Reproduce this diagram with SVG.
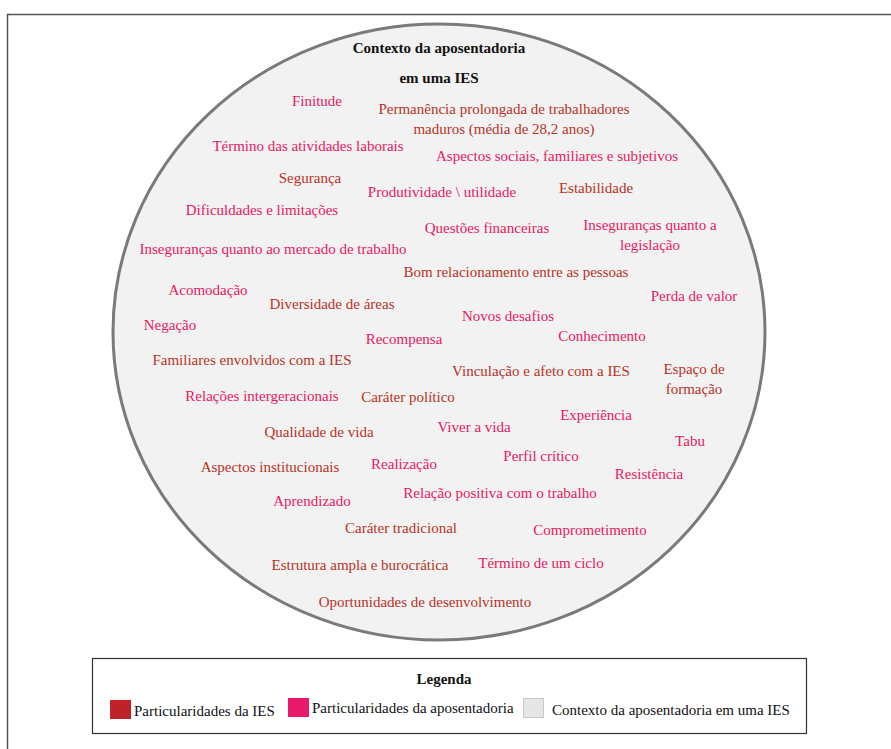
<svg xmlns="http://www.w3.org/2000/svg" width="891" height="749" viewBox="0 0 891 749">
<style>
text{font-family:"Liberation Serif","Times New Roman",serif;font-size:15px}
.t{text-anchor:middle}
.d{fill:#b83227}
.p{fill:#e8195f}
.b{font-weight:bold;fill:#111}
.k{fill:#111}
</style>
<rect x="7.5" y="14.5" width="900" height="760" fill="#fff" stroke="#555" stroke-width="1.5"/>
<g id="contexto">
<ellipse cx="439" cy="332" rx="326" ry="308" fill="#f2f2f2" stroke="#7a7a7a" stroke-width="3"/>
<text class="t b" x="439" y="53">Contexto da aposentadoria</text>
<text class="t b" x="439" y="83">em uma IES</text>
</g>
<g id="itens" class="t">
<text class="t p" x="317" y="106">Finitude</text>
<text class="t d" x="504" y="114">Permanência prolongada de trabalhadores</text>
<text class="t d" x="504" y="134">maduros (média de 28,2 anos)</text>
<text class="t p" x="308" y="151">Término das atividades laborais</text>
<text class="t p" x="557" y="161">Aspectos sociais, familiares e subjetivos</text>
<text class="t d" x="310" y="183">Segurança</text>
<text class="t p" x="442" y="197">Produtividade \ utilidade</text>
<text class="t d" x="596" y="193">Estabilidade</text>
<text class="t p" x="262" y="215">Dificuldades e limitações</text>
<text class="t p" x="487" y="233">Questões financeiras</text>
<text class="t p" x="650" y="230">Inseguranças quanto a</text>
<text class="t p" x="650" y="250">legislação</text>
<text class="t p" x="273" y="254">Inseguranças quanto ao mercado de trabalho</text>
<text class="t d" x="516" y="277">Bom relacionamento entre as pessoas</text>
<text class="t p" x="694" y="301">Perda de valor</text>
<text class="t p" x="208" y="295">Acomodação</text>
<text class="t d" x="332" y="309">Diversidade de áreas</text>
<text class="t p" x="508" y="321">Novos desafios</text>
<text class="t p" x="170" y="330">Negação</text>
<text class="t p" x="404" y="344">Recompensa</text>
<text class="t p" x="602" y="341">Conhecimento</text>
<text class="t d" x="252" y="365">Familiares envolvidos com a IES</text>
<text class="t d" x="541" y="376">Vinculação e afeto com a IES</text>
<text class="t d" x="694" y="374">Espaço de</text>
<text class="t d" x="694" y="394">formação</text>
<text class="t p" x="262" y="401">Relações intergeracionais</text>
<text class="t d" x="408" y="402">Caráter político</text>
<text class="t p" x="596" y="420">Experiência</text>
<text class="t p" x="474" y="432">Viver a vida</text>
<text class="t d" x="319" y="437">Qualidade de vida</text>
<text class="t p" x="690" y="446">Tabu</text>
<text class="t p" x="541" y="461">Perfil crítico</text>
<text class="t d" x="270" y="472">Aspectos institucionais</text>
<text class="t p" x="404" y="469">Realização</text>
<text class="t p" x="649" y="479">Resistência</text>
<text class="t p" x="500" y="498">Relação positiva com o trabalho</text>
<text class="t p" x="312" y="506">Aprendizado</text>
<text class="t d" x="401" y="533">Caráter tradicional</text>
<text class="t p" x="590" y="535">Comprometimento</text>
<text class="t d" x="360" y="570">Estrutura ampla e burocrática</text>
<text class="t p" x="541" y="568">Término de um ciclo</text>
<text class="t d" x="425" y="607">Oportunidades de desenvolvimento</text>
</g>
<g id="legenda">
<rect x="92.5" y="658.5" width="714" height="75" fill="#fff" stroke="#333" stroke-width="1.2"/>
<text class="t b" x="444" y="684">Legenda</text>
<rect x="110" y="700" width="21" height="19" fill="#c0222a"/>
<text class="k" x="134" y="716">Particularidades da IES</text>
<rect x="288" y="698" width="21" height="19" fill="#e8196a"/>
<text class="k" x="312" y="713">Particularidades da aposentadoria</text>
<rect x="523.5" y="698.5" width="20" height="19" fill="#e6e6e6" stroke="#c8c8c8"/>
<text class="k" x="552" y="715">Contexto da aposentadoria em uma IES</text>
</g>
</svg>
